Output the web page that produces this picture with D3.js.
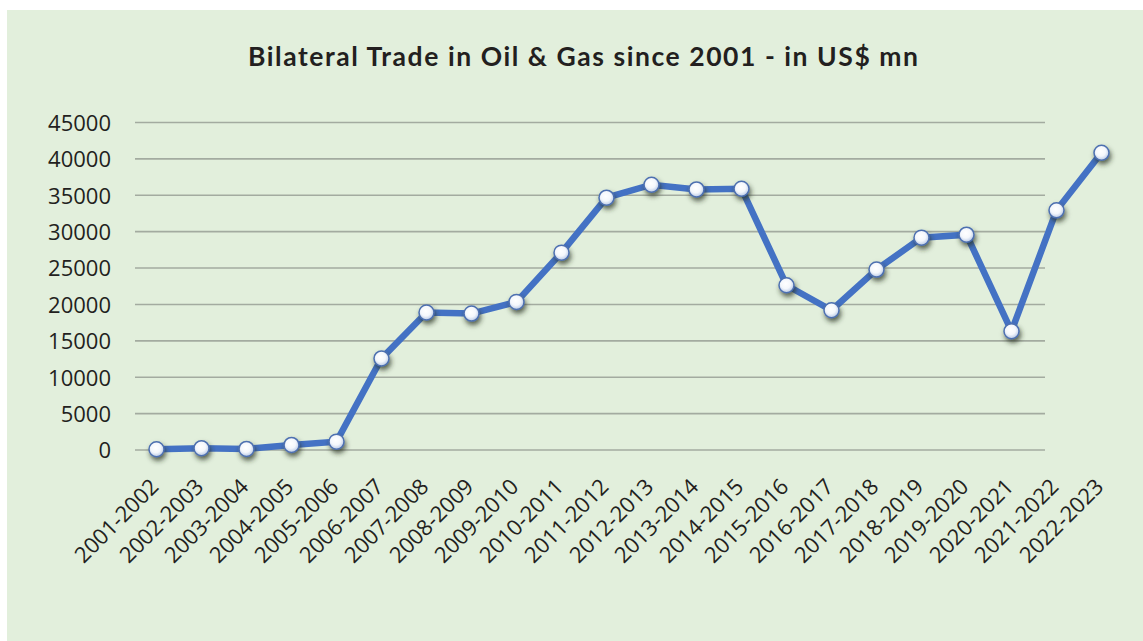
<!DOCTYPE html>
<html>
<head>
<meta charset="utf-8">
<script src="https://cdn.jsdelivr.net/npm/d3@7"></script>
<style>
  html, body { margin: 0; padding: 0; background: #ffffff; }
  svg { display: block; }
</style>
</head>
<body>
<script>
// chart data
var years = ["2001-2002","2002-2003","2003-2004","2004-2005","2005-2006","2006-2007",
  "2007-2008","2008-2009","2009-2010","2010-2011","2011-2012","2012-2013","2013-2014",
  "2014-2015","2015-2016","2016-2017","2017-2018","2018-2019","2019-2020","2020-2021",
  "2021-2022","2022-2023"];
var tradeValues = [100, 250, 150, 700, 1150, 12580, 18890, 18750, 20350, 27120, 34670,
  36450, 35800, 35900, 22640, 19200, 24790, 29180, 29590, 16330, 32930, 40840];
var yTicks = [0, 5000, 10000, 15000, 20000, 25000, 30000, 35000, 40000, 45000];
var chartTitle = "Bilateral Trade in Oil & Gas since 2001 - in US$ mn";

var width = 1143, height = 641;

var svg = d3.select("body").append("svg")
    .attr("width", width)
    .attr("height", height);

var defs = svg.append("defs");
var grad = defs.append("radialGradient").attr("id", "dotFill")
    .attr("cx", "45%").attr("cy", "40%").attr("r", "60%");
grad.append("stop").attr("offset", "0%").attr("stop-color", "#ffffff");
grad.append("stop").attr("offset", "55%").attr("stop-color", "#f4f7fc");
grad.append("stop").attr("offset", "100%").attr("stop-color", "#b9c9e6");

var shadow = defs.append("filter").attr("id", "dotShadow")
    .attr("x", "-80%").attr("y", "-80%").attr("width", "260%").attr("height", "260%");
shadow.append("feDropShadow")
    .attr("dx", 1.5).attr("dy", 3.5).attr("stdDeviation", 2.8)
    .attr("flood-color", "#2a3022").attr("flood-opacity", 0.75);

// panel
svg.append("rect")
    .attr("x", 7).attr("y", 10)
    .attr("width", width - 7).attr("height", height - 10)
    .attr("fill", "#e2efdc");

svg.append("text")
    .attr("x", 583).attr("y", 66)
    .attr("text-anchor", "middle")
    .attr("font-family", "Lato, sans-serif")
    .attr("font-weight", "bold")
    .attr("font-size", "26.5px")
    .attr("fill", "#231f20")
    .attr("textLength", 670)
    .attr("lengthAdjust", "spacing")
    .text(chartTitle);

var x = d3.scalePoint()
    .domain(years)
    .range([156.5, 1101.5]);

var y = d3.scaleLinear()
    .domain([0, 45000])
    .range([450, 122.5]);

// gridlines
svg.append("g")
  .selectAll("line")
  .data(yTicks)
  .enter().append("line")
    .attr("x1", 135).attr("x2", 1045)
    .attr("y1", function(d) { return y(d); })
    .attr("y2", function(d) { return y(d); })
    .attr("stroke", "#a3aba0")
    .attr("stroke-width", 1.6);

// y axis labels
var yAxis = svg.append("g")
    .attr("transform", "translate(111,0)")
    .call(d3.axisLeft(y).tickValues(yTicks).tickSize(0).tickPadding(0)
      .tickFormat(function(d) { return String(d); }));
yAxis.select(".domain").remove();
yAxis.selectAll("text")
    .attr("font-family", "'Open Sans', sans-serif")
    .attr("font-size", "22px")
    .attr("fill", "#231f20")
    .attr("dy", "0.36em");

// x axis labels, rotated
var xAxis = svg.append("g")
    .attr("transform", "translate(0,462)")
    .call(d3.axisBottom(x).tickSize(0).tickPadding(0));
xAxis.select(".domain").remove();
xAxis.selectAll("text")
    .attr("font-family", "'Open Sans', sans-serif")
    .attr("font-size", "22px")
    .attr("fill", "#231f20")
    .attr("text-anchor", "end")
    .attr("y", 0)
    .attr("dy", 0)
    .attr("transform", "translate(3,26) rotate(-45)");

// series line
var line = d3.line()
    .x(function(d, i) { return x(years[i]); })
    .y(function(d) { return y(d); });

svg.append("path")
    .datum(tradeValues)
    .attr("d", line)
    .attr("fill", "none")
    .attr("stroke", "#4472c4")
    .attr("stroke-width", 6.5)
    .attr("stroke-linejoin", "miter")
    .attr("stroke-linecap", "butt");

svg.append("g")
  .selectAll("circle")
  .data(tradeValues)
  .enter().append("circle")
    .attr("cx", function(d, i) { return x(years[i]); })
    .attr("cy", function(d) { return y(d); })
    .attr("r", 7.5)
    .attr("fill", "url(#dotFill)")
    .attr("stroke", "#4d70b0")
    .attr("stroke-width", 1.5)
    .attr("filter", "url(#dotShadow)");
</script>
</body>
</html>
